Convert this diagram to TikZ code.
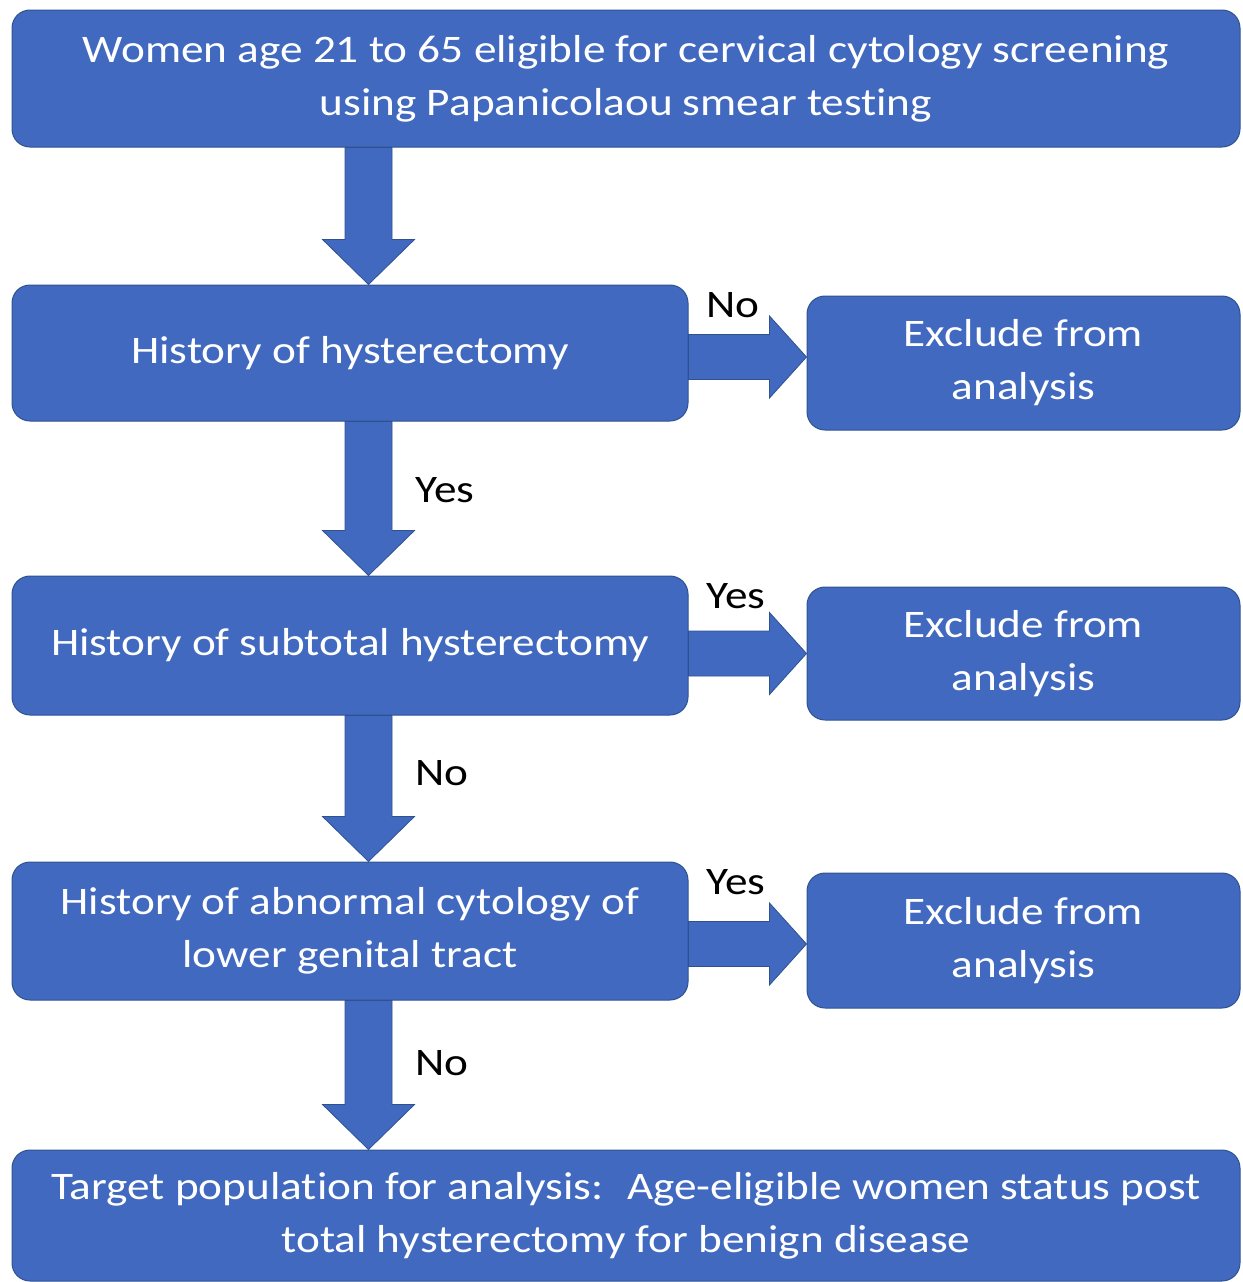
\documentclass[tikz,border=0pt]{standalone}
\usepackage{fontspec}
\setmainfont[FakeStretch=1.16, Ligatures=NoCommon]{Carlito}
\usetikzlibrary{calc}

\definecolor{boxblue}{HTML}{4169C0}
\definecolor{edgeblue}{HTML}{2F528F}

\tikzset{
  flowbox/.style={draw=edgeblue, line width=1pt, fill=boxblue, rounded corners=18pt,
    text=white, align=center, inner sep=0pt, font=\fontsize{39}{53}\selectfont},
  fatarrow/.style={draw=edgeblue, line width=0.8pt, fill=boxblue},
  answer/.style={text=black, font=\fontsize{39}{48}\selectfont}
}

% thick block arrows between boxes
\newcommand{\downblock}[2]{%
  \draw[fatarrow] ($(#1.south west)+(333.5,0)$) -- ($(#2.north west)+(333.5,-45)$)
    -- ($(#2.north west)+(311,-45)$) -- ($(#2.north west)+(357,0)$)
    -- ($(#2.north west)+(403,-45)$) -- ($(#2.north west)+(380.5,-45)$)
    -- ($(#1.south west)+(380.5,0)$) -- cycle;}
\newcommand{\rightblock}[3]{%
  \coordinate (tip) at ($(#2.west)+(0,#3)$);
  \draw[fatarrow] ($(#1.east|-tip)+(0,-22.5)$) -- ($(tip)+(-37,-22.5)$)
    -- ($(tip)+(-37,-41)$) -- (tip) -- ($(tip)+(-37,41)$)
    -- ($(tip)+(-37,22.5)$) -- ($(#1.east|-tip)+(0,22.5)$) -- cycle;}

\begin{document}
\begin{tikzpicture}[x=1pt, y=-1pt]
\useasboundingbox (0,0) rectangle (1242,1282);

\node[flowbox, minimum width=1228pt, minimum height=137pt] (screen) at (626,78.5)
  {Women age 21 to 65 eligible for cervical cytology screening\\using Papanicolaou smear testing};
\node[flowbox, minimum width=676pt, minimum height=136pt] (hyst) at (350,353) {History of hysterectomy};
\node[flowbox, minimum width=433pt, minimum height=134pt] (excla) at (1023.5,363) {Exclude from\\analysis};
\node[flowbox, minimum width=676pt, minimum height=139pt] (subtot) at (350,645.5) {History of subtotal hysterectomy};
\node[flowbox, minimum width=433pt, minimum height=133pt] (exclb) at (1023.5,653.5) {Exclude from\\analysis};
\node[flowbox, minimum width=676pt, minimum height=138pt] (abnorm) at (350,931) {History of abnormal cytology of\\lower genital tract};
\node[flowbox, minimum width=433pt, minimum height=135pt] (exclc) at (1023.5,940.5) {Exclude from\\analysis};
\node[flowbox, minimum width=1228pt, minimum height=131pt] (target) at (626,1215.5)
  {Target population for analysis:~ Age-eligible women status post\\total hysterectomy for benign disease};

\downblock{screen}{hyst}
\downblock{hyst}{subtot}
\downblock{subtot}{abnorm}
\downblock{abnorm}{target}
\rightblock{hyst}{excla}{-6}
\rightblock{subtot}{exclb}{0}
\rightblock{abnorm}{exclc}{3.5}

\node[answer] (noa) at (733,305) {No};
\node[answer] (yesa) at (445,490) {Yes};
\node[answer] (yesb) at (736,596) {Yes};
\node[answer] (nob) at (442,773) {No};
\node[answer] (yesc) at (736,882) {Yes};
\node[answer] (noc) at (442,1063) {No};
\end{tikzpicture}
\end{document}
